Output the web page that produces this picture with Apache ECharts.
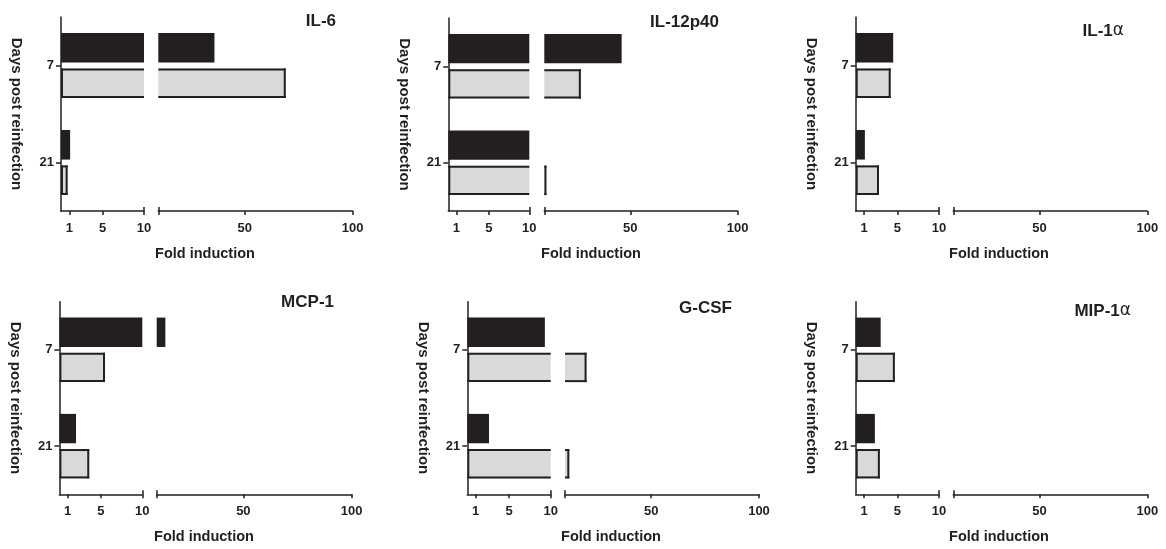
<!DOCTYPE html>
<html><head><meta charset="utf-8">
<script src="https://cdn.jsdelivr.net/npm/echarts@6/dist/echarts.min.js"></script>
<style>html,body{margin:0;padding:0;background:#fff}#c{width:1166px;height:549px}</style>
</head><body><div id="c"></div>
<script>
// ---------- data ----------
const categories = ['7', '21'];
const panelTitles = ['IL-6', 'IL-12p40', 'IL-1α', 'MCP-1', 'G-CSF', 'MIP-1α'];
const lowTicks = [1, 5, 10];
const highTicks = [50, 100];
const xAxisTitle = 'Fold induction';
const yAxisTitle = 'Days post reinfection';

const il6Dark = [36, 1.1];     const il6Light = [69, 0.8];
const il12Dark = [46, 10];     const il12Light = [27, 11];
const il1aDark = [4.5, 1.1];   const il1aLight = [4.2, 2.8];
const mcp1Dark = [14, 2.0];    const mcp1Light = [5.5, 3.6];
const gcsfDark = [9.3, 2.6];   const gcsfLight = [20, 12];
const mip1aDark = [3.0, 2.3];  const mip1aLight = [4.7, 2.9];

const darkSeries = [il6Dark, il12Dark, il1aDark, mcp1Dark, gcsfDark, mip1aDark];
const lightSeries = [il6Light, il12Light, il1aLight, mcp1Light, gcsfLight, mip1aLight];

// ---------- layout / style ----------
const DARK = '#231f20';
const LIGHT = '#d8d9da';
const FONT = '"Liberation Sans", Arial, Helvetica, sans-serif';
const layout = [
  {l0: 61,    l1: 144,   r0: 158.3, r1: 352.7,  top: 17,    bottom: 211,   tx: 336,  ty: 21,  fx: 205, fy: 254},
  {l0: 448.3, l1: 529.3, r0: 544.3, r1: 737.7,  top: 18,    bottom: 211,   tx: 719,  ty: 22,  fx: 591, fy: 254},
  {l0: 855.7, l1: 939,   r0: 953.3, r1: 1147.3, top: 17,    bottom: 211,   tx: 1124, ty: 31,  fx: 999, fy: 254},
  {l0: 59.4,  l1: 142.3, r0: 156.7, r1: 351.7,  top: 301.7, bottom: 494.3, tx: 334,  ty: 302, fx: 204, fy: 537},
  {l0: 467.3, l1: 550.7, r0: 565,   r1: 759,    top: 301.7, bottom: 494.3, tx: 732,  ty: 308, fx: 611, fy: 537},
  {l0: 855.7, l1: 939,   r0: 953.3, r1: 1147.3, top: 301.7, bottom: 494.3, tx: 1131, ty: 311, fx: 999, fy: 537}
];

function makeRender(segMin, segMax, isDark, isFirstSeg) {
  return function (params, api) {
    const v = api.value(0), cat = api.value(1);
    if (v <= segMin) return null;
    const band = api.size([0, 1])[1];
    const c = api.coord([segMin, cat]);
    const x0 = c[0];
    const xEnd = api.coord([Math.min(v, segMax), cat])[0];
    const h = band * 0.305, g = band * 0.03;
    const y0 = isDark ? c[1] - g - h : c[1] + g;
    const y1 = y0 + h;
    const children = [{type: 'rect', shape: {x: x0, y: y0, width: xEnd - x0, height: h},
      style: {fill: isDark ? DARK : LIGHT}}];
    if (!isDark) {
      const bw = 2, hb = bw / 2;
      const ls = {stroke: DARK, lineWidth: bw};
      children.push({type: 'line', shape: {x1: x0, y1: y0 + hb, x2: xEnd, y2: y0 + hb}, style: ls});
      children.push({type: 'line', shape: {x1: x0, y1: y1 - hb, x2: xEnd, y2: y1 - hb}, style: ls});
      if (isFirstSeg) children.push({type: 'line', shape: {x1: x0 + hb, y1: y0, x2: x0 + hb, y2: y1}, style: ls});
      if (v <= segMax) children.push({type: 'line', shape: {x1: xEnd - hb, y1: y0, x2: xEnd - hb, y2: y1}, style: ls});
    }
    return {type: 'group', children: children};
  };
}

const grid = [], xAxis = [], yAxis = [], series = [], graphic = [];
const axisLineStyle = {color: DARK, width: 1.5};
const labelStyle = {color: DARK, fontFamily: FONT, fontWeight: 'bold', fontSize: 13};

layout.forEach(function (L, p) {
  const h = L.bottom - L.top;
  grid.push({left: L.l0, top: L.top, width: L.l1 - L.l0, height: h, containLabel: false, outerBoundsMode: 'none'});
  grid.push({left: L.r0, top: L.top, width: L.r1 - L.r0, height: h, containLabel: false, outerBoundsMode: 'none'});
  const gLow = 2 * p, gHigh = 2 * p + 1;
  // low segment axes
  xAxis.push({type: 'value', gridIndex: gLow, position: 'bottom', min: 0, max: 10, splitLine: {show: false},
    axisLine: {show: true, lineStyle: axisLineStyle},
    axisTick: {show: true, customValues: lowTicks, length: 4, lineStyle: axisLineStyle},
    axisLabel: Object.assign({show: true, customValues: lowTicks, margin: 11}, labelStyle)});
  xAxis.push({type: 'value', gridIndex: gLow, position: 'bottom', offset: 0, min: 0, max: 10, splitLine: {show: false},
    axisLine: {show: false}, axisLabel: {show: false},
    axisTick: {show: true, inside: true, customValues: [10], length: 4, lineStyle: axisLineStyle}});
  // high segment axes
  xAxis.push({type: 'value', gridIndex: gHigh, position: 'bottom', min: 10, max: 100, splitLine: {show: false},
    axisLine: {show: true, lineStyle: axisLineStyle},
    axisTick: {show: true, customValues: [10].concat(highTicks), length: 4, lineStyle: axisLineStyle},
    axisLabel: Object.assign({show: true, customValues: highTicks, margin: 11}, labelStyle)});
  xAxis.push({type: 'value', gridIndex: gHigh, position: 'bottom', offset: 0, min: 10, max: 100, splitLine: {show: false},
    axisLine: {show: false}, axisLabel: {show: false},
    axisTick: {show: true, inside: true, customValues: [10], length: 4, lineStyle: axisLineStyle}});
  yAxis.push({type: 'category', gridIndex: gLow, data: categories, inverse: true,
    axisLine: {show: true, lineStyle: axisLineStyle},
    axisTick: {show: true, alignWithLabel: true, length: 5, lineStyle: axisLineStyle},
    axisLabel: Object.assign({margin: 7}, labelStyle),
    splitLine: {show: false},
    name: yAxisTitle, nameLocation: 'middle', nameRotate: -90, nameGap: 37,
    nameTextStyle: {color: DARK, fontFamily: FONT, fontWeight: 'bold', fontSize: 15}});
  yAxis.push({type: 'category', gridIndex: gHigh, data: categories, inverse: true, show: false});

  const segs = [
    {g: gLow, xi: 4 * p, yi: 2 * p, min: 0, max: 10, first: true},
    {g: gHigh, xi: 4 * p + 2, yi: 2 * p + 1, min: 10, max: 100, first: false}
  ];
  segs.forEach(function (s) {
    [[darkSeries[p], true], [lightSeries[p], false]].forEach(function (pair) {
      series.push({type: 'custom', xAxisIndex: s.xi, yAxisIndex: s.yi,
        encode: {x: 0, y: 1}, clip: false,
        data: pair[0].map(function (v, i) { return [v, i]; }),
        renderItem: makeRender(s.min, s.max, pair[1], s.first)});
    });
  });

  graphic.push({type: 'text', x: L.tx, y: L.ty,
    style: {text: panelTitles[p].replace('α', '{a|α}'), fill: DARK, font: 'bold 17px ' + FONT,
      textAlign: 'right', textVerticalAlign: 'middle',
      rich: {a: {fontFamily: '"DejaVu Sans", ' + FONT, fontWeight: 'normal', fontSize: 17, fill: DARK}}}});
  graphic.push({type: 'text', x: L.fx, y: L.fy,
    style: {text: xAxisTitle, fill: DARK, font: 'bold 14.5px ' + FONT, textAlign: 'center', textVerticalAlign: 'middle'}});
});

const chart = echarts.init(document.getElementById('c'), null, {renderer: 'canvas'});
chart.setOption({animation: false, backgroundColor: '#fff', grid: grid, xAxis: xAxis, yAxis: yAxis, series: series, graphic: graphic});
</script></body></html>
